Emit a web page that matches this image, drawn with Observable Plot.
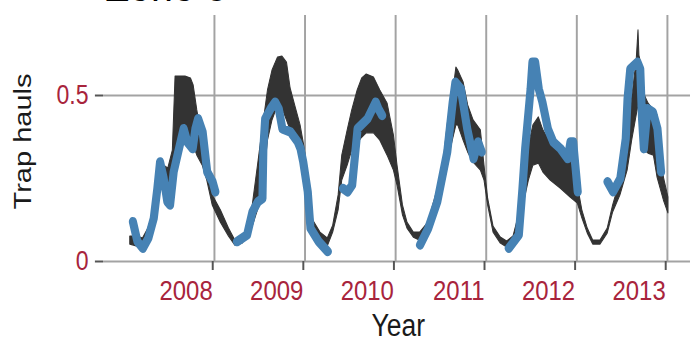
<!DOCTYPE html>
<html>
<head>
<meta charset="utf-8">
<script src="https://cdn.jsdelivr.net/npm/d3@7"></script>
<script src="https://cdn.jsdelivr.net/npm/@observablehq/plot@0.6"></script>
<style>
  html, body { margin: 0; padding: 0; background: #fff; overflow: hidden; }
  #chart svg { display: block; }
</style>
</head>
<body>
<div id="chart"></div>
<script>
// Modelled trap hauls (dark band: lower / upper bound) by decimal year
const bandYear = [
  2007.07, 2007.15, 2007.21, 2007.27, 2007.33, 2007.38, 2007.44, 2007.49, 2007.54, 2007.57, 2007.63, 2007.68, 2007.74, 2007.77, 2007.81, 2007.87, 2007.92, 2007.98,
  2008.07, 2008.16, 2008.23, 2008.31, 2008.40, 2008.48, 2008.53, 2008.59, 2008.64, 2008.70, 2008.75, 2008.80, 2008.84, 2008.89, 2008.95, 2008.99,
  2009.04, 2009.09, 2009.17, 2009.25, 2009.31, 2009.37, 2009.41, 2009.47, 2009.52, 2009.58, 2009.63, 2009.68, 2009.76, 2009.83, 2009.91, 2009.98,
  2010.02, 2010.08, 2010.13, 2010.20, 2010.27, 2010.36, 2010.46, 2010.53, 2010.58, 2010.63, 2010.67, 2010.69, 2010.75, 2010.80, 2010.86, 2010.94, 2010.98,
  2011.02, 2011.08, 2011.16, 2011.23, 2011.30, 2011.36, 2011.41, 2011.47, 2011.52, 2011.58, 2011.63, 2011.71, 2011.82, 2011.93,
  2012.01, 2012.06, 2012.12, 2012.18, 2012.26, 2012.34, 2012.40, 2012.48, 2012.56, 2012.61, 2012.66, 2012.68, 2012.69, 2012.71, 2012.75, 2012.79, 2012.85, 2012.89, 2012.96, 2013.01
];
const bandHigh = [
  0.075, 0.075, 0.069, 0.099, 0.154, 0.259, 0.289, 0.280, 0.334, 0.557, 0.557, 0.557, 0.551, 0.530, 0.455, 0.364, 0.289, 0.199,
  0.154, 0.099, 0.063, 0.069, 0.123, 0.289, 0.395, 0.515, 0.575, 0.614, 0.617, 0.599, 0.521, 0.470, 0.410, 0.349,
  0.244, 0.123, 0.087, 0.069, 0.108, 0.199, 0.319, 0.395, 0.455, 0.515, 0.551, 0.563, 0.554, 0.515, 0.476, 0.380,
  0.289, 0.169, 0.117, 0.087, 0.087, 0.117, 0.214, 0.304, 0.425, 0.500, 0.584, 0.575, 0.539, 0.470, 0.425, 0.395, 0.289,
  0.190, 0.105, 0.072, 0.060, 0.075, 0.139, 0.259, 0.349, 0.410, 0.434, 0.395, 0.358, 0.325, 0.304,
  0.229, 0.154, 0.099, 0.063, 0.063, 0.099, 0.169, 0.244, 0.364, 0.494, 0.605, 0.696, 0.620, 0.596, 0.500, 0.476, 0.455, 0.440, 0.253, 0.193
];
const bandLow = [
  0.051, 0.045, 0.039, 0.063, 0.108, 0.199, 0.229, 0.184, 0.214, 0.334, 0.364, 0.380, 0.364, 0.349, 0.319, 0.289, 0.244, 0.169,
  0.117, 0.075, 0.048, 0.054, 0.087, 0.154, 0.199, 0.364, 0.425, 0.470, 0.461, 0.425, 0.395, 0.364, 0.334, 0.274,
  0.184, 0.093, 0.063, 0.045, 0.087, 0.154, 0.244, 0.289, 0.334, 0.355, 0.373, 0.386, 0.386, 0.364, 0.319, 0.274,
  0.229, 0.139, 0.099, 0.072, 0.063, 0.087, 0.169, 0.244, 0.304, 0.364, 0.410, 0.410, 0.364, 0.328, 0.298, 0.274, 0.244,
  0.169, 0.087, 0.054, 0.042, 0.060, 0.099, 0.169, 0.244, 0.289, 0.295, 0.268, 0.244, 0.220, 0.193,
  0.175, 0.130, 0.084, 0.051, 0.051, 0.084, 0.148, 0.199, 0.274, 0.364, 0.440, 0.470, 0.455, 0.410, 0.334, 0.325, 0.319, 0.253, 0.184, 0.145
];

// Observed trap hauls; null marks the gap between trapping seasons
const obsYear = [
  2007.10, 2007.15, 2007.21, 2007.27, 2007.33, 2007.37, 2007.40, 2007.44, 2007.48, 2007.51, 2007.55, 2007.60, 2007.66, 2007.70, 2007.76, 2007.79, 2007.82, 2007.87, 2007.92, 2007.98, 2008.01,
  2008.13,
  2008.25, 2008.36, 2008.42, 2008.48, 2008.53, 2008.54, 2008.56, 2008.62, 2008.67, 2008.71, 2008.75, 2008.84, 2008.92, 2008.95, 2008.98, 2009.03, 2009.06, 2009.15, 2009.25,
  2009.33,
  2009.42, 2009.47, 2009.52, 2009.58, 2009.69, 2009.78, 2009.81, 2009.85,
  2010.05,
  2010.27, 2010.36, 2010.46, 2010.57, 2010.63, 2010.66, 2010.72, 2010.79, 2010.86, 2010.91, 2010.95,
  2011.10,
  2011.25, 2011.36, 2011.40, 2011.43, 2011.46, 2011.49, 2011.51, 2011.54, 2011.58, 2011.62, 2011.68, 2011.74, 2011.82, 2011.90, 2011.93, 2011.96, 2011.99, 2012.01,
  2012.17,
  2012.34, 2012.40, 2012.48, 2012.54, 2012.56, 2012.59, 2012.67, 2012.70, 2012.72, 2012.74, 2012.78, 2012.84, 2012.89, 2012.93
];
const obsHauls = [
  0.12, 0.06, 0.04, 0.07, 0.13, 0.22, 0.30, 0.25, 0.18, 0.17, 0.27, 0.33, 0.40, 0.36, 0.34, 0.40, 0.43, 0.39, 0.27, 0.24, 0.21,
  null,
  0.06, 0.08, 0.15, 0.18, 0.19, 0.34, 0.43, 0.46, 0.48, 0.46, 0.40, 0.39, 0.36, 0.34, 0.30, 0.21, 0.10, 0.06, 0.03,
  null,
  0.22, 0.21, 0.23, 0.40, 0.43, 0.48, 0.46, 0.44,
  null,
  0.05, 0.10, 0.18, 0.33, 0.48, 0.54, 0.52, 0.40, 0.31, 0.36, 0.33,
  null,
  0.04, 0.08, 0.22, 0.34, 0.43, 0.52, 0.60, 0.60, 0.52, 0.48, 0.40, 0.36, 0.34, 0.31, 0.36, 0.36, 0.27, 0.21,
  null,
  0.24, 0.21, 0.25, 0.37, 0.49, 0.58, 0.60, 0.58, 0.43, 0.34, 0.46, 0.45, 0.40, 0.27
];

const yearTicks = [2008, 2009, 2010, 2011, 2012, 2013];
const haulTicks = [0, 0.5];

const titleText = "Zone 3";
const xLabel = "Year";
const yLabel = "Trap hauls";

const gridColor = "#a3a3a3";
const tickColor = "#555555";
const tickLabelColor = "#a8243c";

// The plot is laid out on a wider canvas, then squeezed horizontally into the page.
const W = 807, H = 341, displayW = 690;

const chart = Plot.plot({
  width: W,
  height: H,
  marginLeft: 120.5,
  marginRight: 0,
  marginTop: 15,
  marginBottom: 80,
  x: {domain: [2006.775, 2013.254]},
  y: {domain: [0, 0.741]},
  style: {fontFamily: "'Liberation Sans', Arial, sans-serif", background: "#fff"},
  marks: [
    Plot.ruleX(yearTicks, {stroke: gridColor, strokeWidth: 2.3}),
    Plot.ruleY(haulTicks, {stroke: gridColor, strokeWidth: 2}),
    Plot.areaY(bandYear, {x: bandYear, y1: bandLow, y2: bandHigh, fill: "#333333", stroke: "#333333", strokeWidth: 1.2}),
    Plot.lineY(obsYear, {x: obsYear, y: obsHauls, stroke: "#4682b4", strokeWidth: 9.5, strokeLinecap: "round", strokeLinejoin: "round"}),
    Plot.axisY({ticks: haulTicks, tickFormat: d => String(d), tickSize: 9.5, tickPadding: 8, fontSize: 27,
      stroke: tickColor, strokeWidth: 2, fill: tickLabelColor, label: null}),
    Plot.axisX({ticks: yearTicks, tickFormat: d => String(d), tickSize: 9, tickPadding: 10, fontSize: 28,
      textAnchor: "end", dx: -2, stroke: tickColor, strokeWidth: 2.3, fill: tickLabelColor, label: null}),
    Plot.text([xLabel], {text: d => d, frameAnchor: "bottom", dy: 65, dx: 1.5, fontSize: 31, fill: "#1a1a1a", lineAnchor: "middle"}),
    Plot.text([yLabel], {text: d => d, frameAnchor: "left", textAnchor: "middle", rotate: -90, dx: -93.5, dy: 3, fontSize: 29, fill: "#1a1a1a", lineAnchor: "middle"}),
    Plot.text([titleText], {text: d => d, frameAnchor: "top-left", textAnchor: "start", dx: 2, dy: -29.5, fontSize: 46, fill: "#000", lineAnchor: "middle"})
  ]
});

chart.setAttribute("width", displayW);
chart.setAttribute("height", H);
chart.setAttribute("preserveAspectRatio", "none");
chart.style.width = displayW + "px";
chart.style.height = H + "px";
chart.style.maxWidth = "none";
document.getElementById("chart").append(chart);
</script>
</body>
</html>
